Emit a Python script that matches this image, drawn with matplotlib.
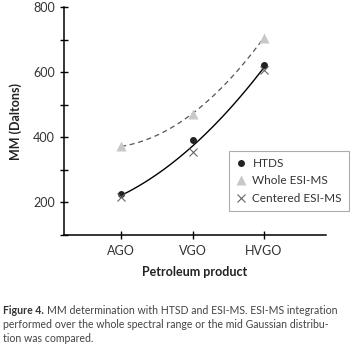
import numpy as np
import matplotlib
matplotlib.use('Agg')
import matplotlib.pyplot as plt

products = ['AGO', 'VGO', 'HVGO']
htds = [227, 391, 621]
whole_esi = [372, 473, 706]
centered_esi = [216, 355, 607]
y_ticks = [200, 400, 600, 800]
y_minor = [100, 300, 500, 700]

caption_lines = [
    'MM determination with HTSD and ESI-MS. ESI-MS integration',
    'performed over the whole spectral range or the mid Gaussian distribu-',
    'tion was compared.',
]

plt.rcParams['font.family'] = ['Lato', 'DejaVu Sans']

fig = plt.figure(figsize=(3.58, 3.49), dpi=100)
ax = fig.add_axes([64 / 358, 1 - 235 / 349, (326 - 64) / 358, (235 - 7) / 349])

x = np.arange(len(products))

# trend lines (quadratic fits, like spreadsheet trendlines)
xs = np.linspace(0, 2, 60)
p_whole = np.polyfit(x, whole_esi, 2)
ax.plot(xs, np.polyval(p_whole, xs), color='#555555', lw=0.9, ls=(0, (4, 3)), zorder=1)
p_solid = np.polyfit(np.concatenate([x, x]), htds + centered_esi, 2)
ax.plot(xs, np.polyval(p_solid, xs), color='black', lw=1.0, zorder=1)

ax.plot(x, htds, 'o', color='#222222', ms=4, label='HTDS', zorder=3)
ax.plot(x, whole_esi, '^', color='#c8c8c8', ms=7, mec='none', label='Whole ESI-MS', zorder=2)
ax.plot(x, centered_esi, 'x', color='#666666', ms=6, mew=0.8, label='Centered ESI-MS', zorder=3)

ax.set_xlim(-0.8, 2.87)
ax.set_ylim(100, 800)
ax.set_xticks(x)
ax.set_xticklabels(products)
ax.set_yticks(y_ticks)
ax.set_yticks(y_minor, minor=True)
ax.tick_params(axis='both', which='both', direction='inout', length=6, width=1,
               labelsize=9, colors='black', labelcolor='#333333')
ax.tick_params(axis='x', pad=4)

for s in ['top', 'right']:
    ax.spines[s].set_visible(False)
for s in ['left', 'bottom']:
    ax.spines[s].set_linewidth(1.1)

ax.set_ylabel('MM (Daltons)', fontsize=9, fontweight='bold', color='#222222', labelpad=8)
ax.set_xlabel('Petroleum product', fontsize=9, fontweight='bold', color='#222222', labelpad=7)

leg = ax.legend(loc='lower right', bbox_to_anchor=(349 / 358, 1 - 211 / 349),
                bbox_transform=fig.transFigure, fontsize=8.5, frameon=True,
                fancybox=False, edgecolor='#999999', handlelength=0.8,
                handletextpad=0.6, borderpad=0.6, labelspacing=0.55,
                borderaxespad=0)
leg.get_frame().set_linewidth(0.8)
for t in leg.get_texts():
    t.set_color('#333333')

cap_size = 7.6
head = fig.text(3 / 358, 1 - 311 / 349, 'Figure 4.', fontsize=cap_size, fontweight='bold',
                color='#333333', va='center', ha='left')
renderer = fig.canvas.get_renderer()
head_end = head.get_window_extent(renderer).x1 / fig.bbox.width
fig.text(head_end + 3 / 358, 1 - 311 / 349, caption_lines[0], fontsize=cap_size,
         color='#444444', va='center', ha='left')
fig.text(3 / 358, 1 - 325 / 349, caption_lines[1], fontsize=cap_size, color='#444444',
         va='center', ha='left')
fig.text(3 / 358, 1 - 339 / 349, caption_lines[2], fontsize=cap_size, color='#444444',
         va='center', ha='left')

fig.savefig('out.png', dpi=100)
